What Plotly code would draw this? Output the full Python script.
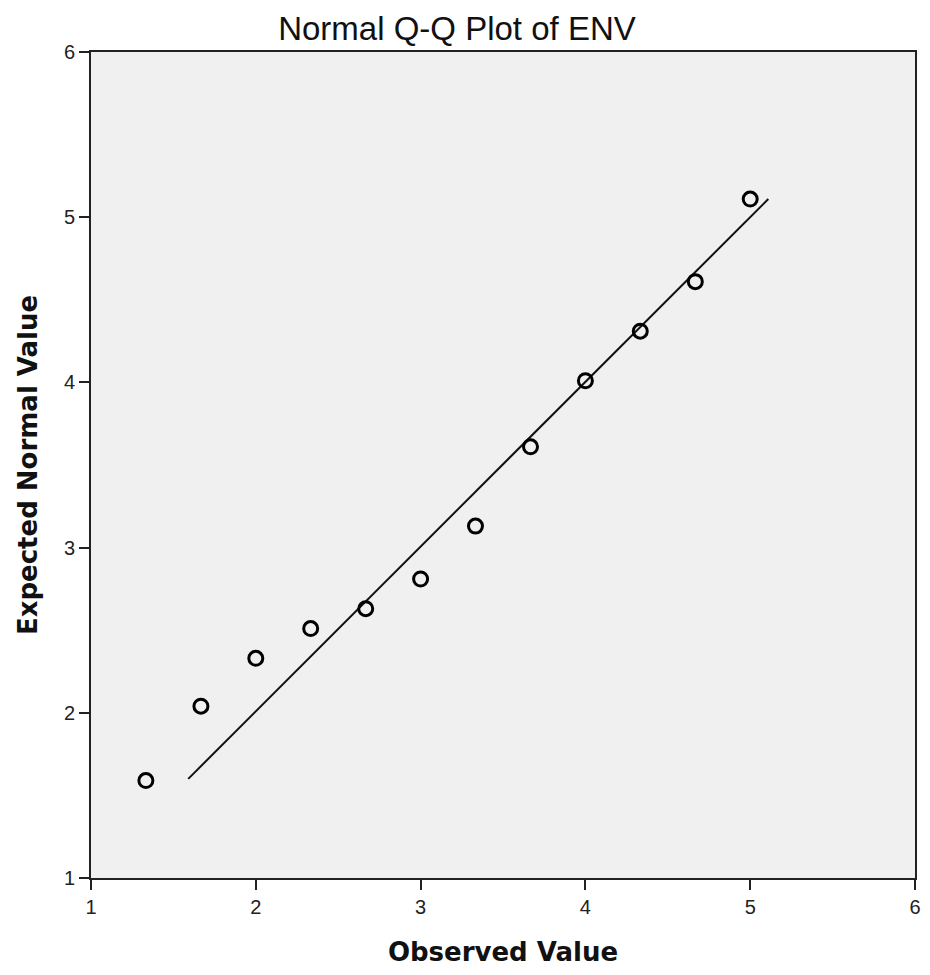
import plotly.graph_objects as go

observed = [1.333, 1.667, 2.0, 2.333, 2.667, 3.0, 3.333, 3.667, 4.0, 4.333, 4.667, 5.0]
expected = [1.59, 2.04, 2.33, 2.51, 2.63, 2.81, 3.13, 3.61, 4.01, 4.31, 4.61, 5.11]
line_x = [1.59, 5.11]
line_y = [1.60, 5.11]
tick_vals = [1, 2, 3, 4, 5, 6]

fig = go.Figure()
fig.add_trace(go.Scatter(x=line_x, y=line_y, mode="lines",
                         line=dict(color="#111111", width=2), hoverinfo="skip"))
fig.add_trace(go.Scatter(x=observed, y=expected, mode="markers",
                         marker=dict(symbol="circle-open", size=14, color="#000000",
                                     line=dict(width=3, color="#000000"))))

axis_common = dict(range=[1, 6], tickvals=tick_vals, ticks="outside", ticklen=10,
                   tickwidth=2, tickcolor="#222222", showline=True, linewidth=2,
                   linecolor="#222222", mirror=True, showgrid=False, zeroline=False,
                   ticklabeloverflow="allow",
                   tickfont=dict(family="Liberation Sans, Arial", size=20, color="#222222"))

fig.update_layout(
    width=914, height=959,
    paper_bgcolor="white", plot_bgcolor="#F0F0F0",
    showlegend=False,
    margin=dict(l=83, r=1, t=44, b=85),
    title=dict(text="Normal Q-Q Plot of ENV", x=0.4912, xanchor="center", y=0.979, yanchor="middle",
               xref="container",
               font=dict(family="Liberation Sans, Arial", size=33, color="#111111")),
    xaxis=dict(**axis_common,
               title=dict(text="<b>Observed Value</b>", standoff=30,
                          font=dict(family="DejaVu Sans", size=26, color="#111111"))),
    yaxis=dict(**axis_common,
               title=dict(text="<b>Expected Normal Value</b>", standoff=19,
                          font=dict(family="DejaVu Sans", size=26, color="#111111"))),
)

post = (
    "var s=document.querySelectorAll('.main-svg');"
    "for(var i=0;i<s.length;i++){s[i].style.overflow='visible';}"
)

fig.write_html("out.html", config={"displayModeBar": False}, post_script=post)
